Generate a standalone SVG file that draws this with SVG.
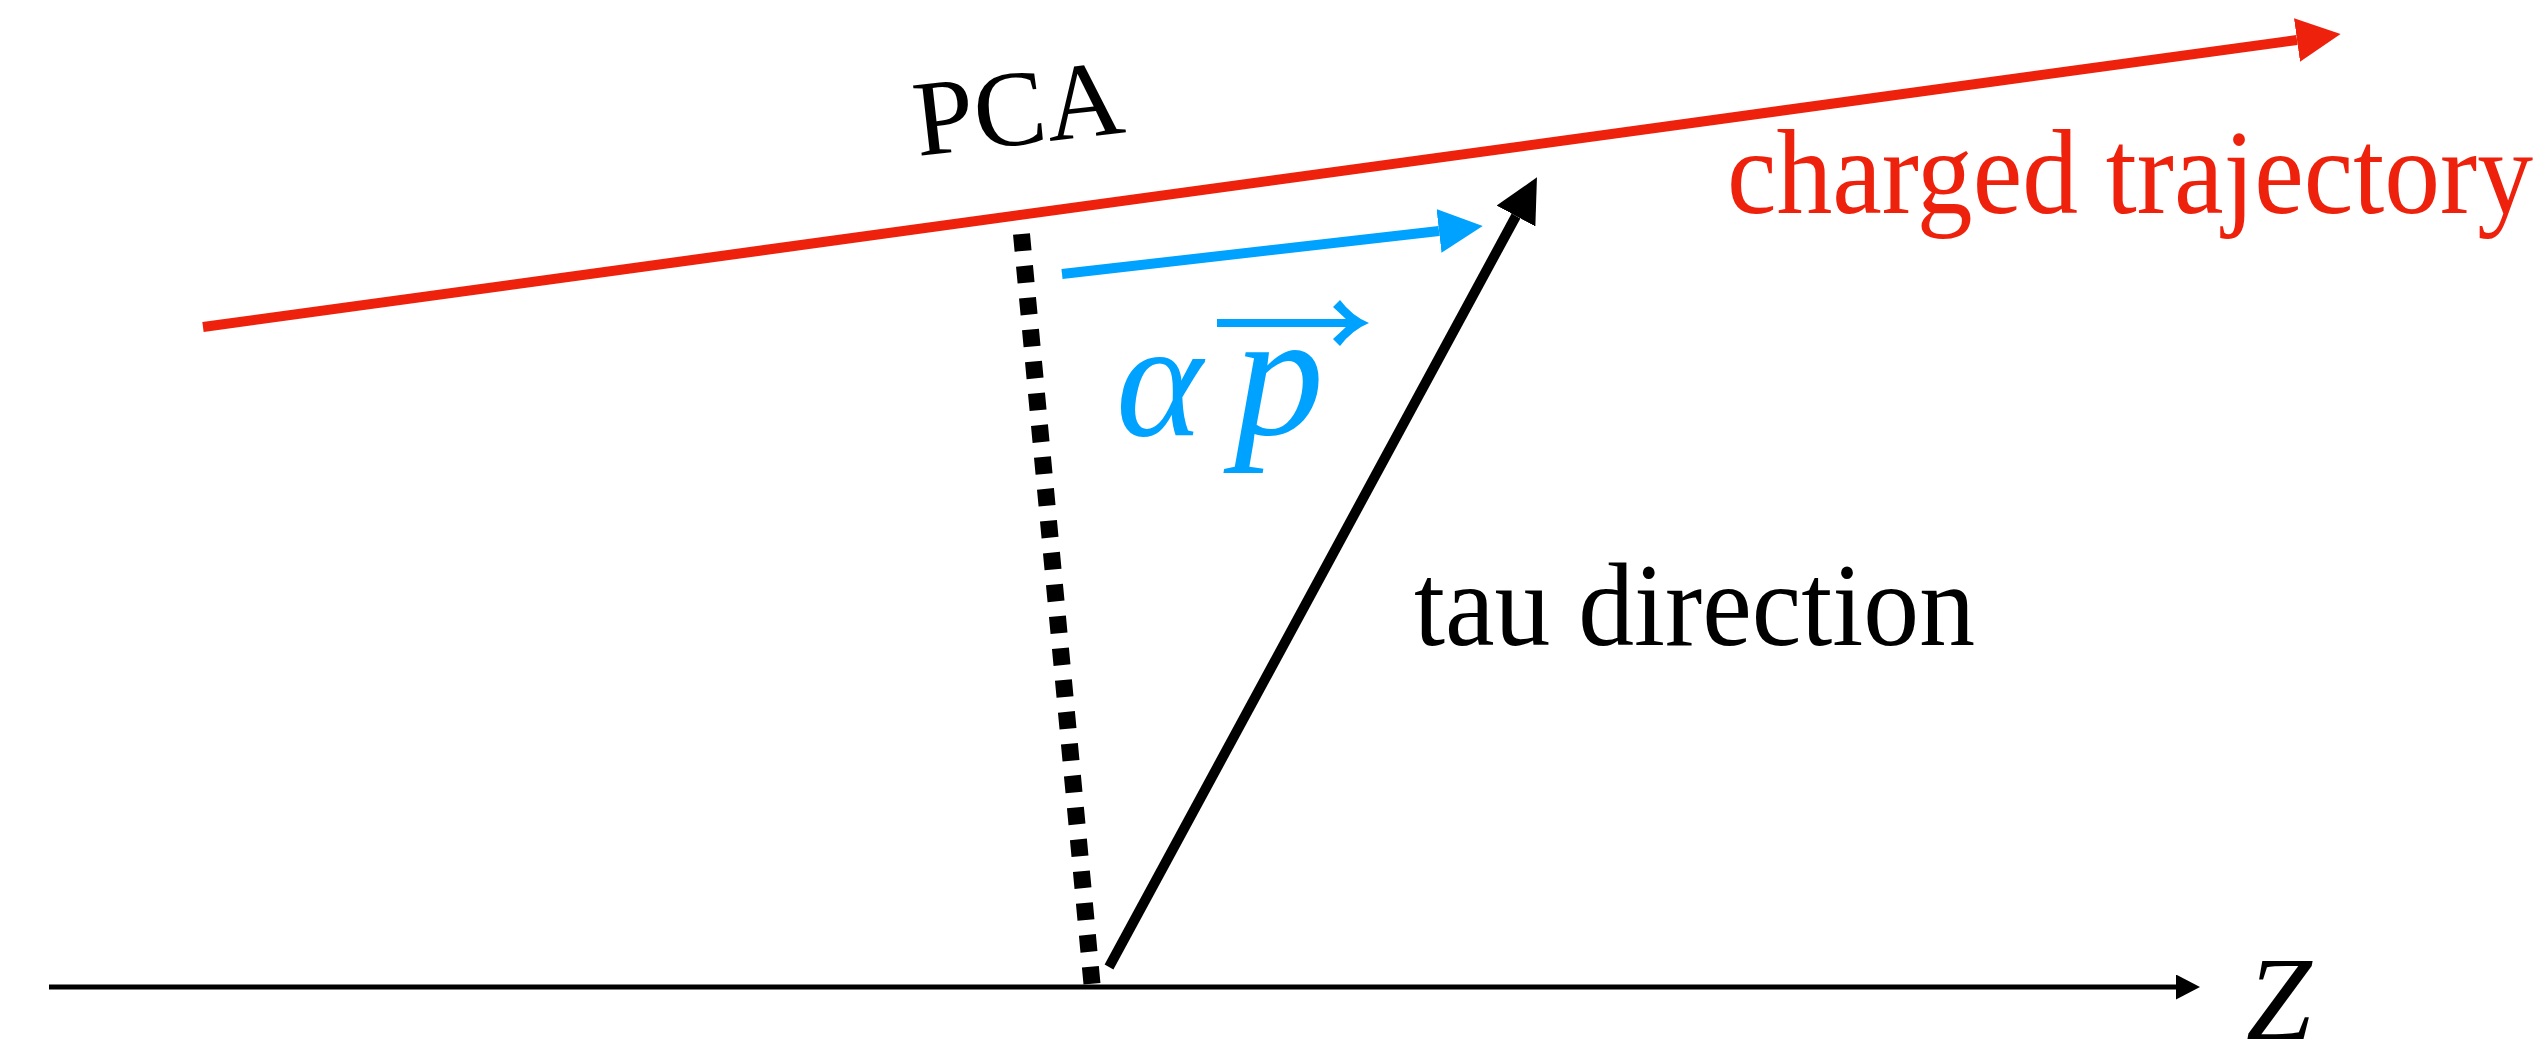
<svg xmlns="http://www.w3.org/2000/svg" width="2546" height="1061" viewBox="0 0 2546 1061">
<style>
text{font-family:"Liberation Serif",Tinos,"Times New Roman",Times,serif}
.red{fill:#EE220C}
.blk{fill:#000}
.blu{fill:#00A2FF}
</style>
<defs>
<marker id="ahRed" viewBox="0 0 44 44" refX="0" refY="22" markerWidth="44" markerHeight="44" markerUnits="userSpaceOnUse" orient="auto"><path d="M0,0 L44,22 L0,44 Z" fill="#EE220C"/></marker>
<marker id="ahBlue" viewBox="0 0 44 44" refX="0" refY="22" markerWidth="44" markerHeight="44" markerUnits="userSpaceOnUse" orient="auto"><path d="M0,0 L44,22 L0,44 Z" fill="#00A2FF"/></marker>
<marker id="ahBlack" viewBox="0 0 44 44" refX="0" refY="22" markerWidth="44" markerHeight="44" markerUnits="userSpaceOnUse" orient="auto"><path d="M0,0 L44,22 L0,44 Z" fill="#000"/></marker>
<marker id="ahAxis" viewBox="0 0 24 25" refX="0" refY="12.5" markerWidth="24" markerHeight="25" markerUnits="userSpaceOnUse" orient="auto"><path d="M0,0 L24,12.5 L0,25 Z" fill="#000"/></marker>
</defs>
<rect width="2546" height="1061" fill="#fff"/>
<g id="connectors">
<line id="z-axis" x1="49" y1="987" x2="2176" y2="987" stroke="#000" stroke-width="5" marker-end="url(#ahAxis)"/>
<line id="charged-trajectory" x1="203" y1="327" x2="2297" y2="40" stroke="#EE220C" stroke-width="10" marker-end="url(#ahRed)"/>
<line id="alpha-p" x1="1062" y1="274" x2="1439" y2="231" stroke="#00A2FF" stroke-width="10" marker-end="url(#ahBlue)"/>
<line id="tau-direction" x1="1109" y1="967" x2="1516" y2="216" stroke="#000" stroke-width="10" marker-end="url(#ahBlack)"/>
<line id="pca-distance" x1="1021.5" y1="234" x2="1092" y2="984" stroke="#000" stroke-width="17" stroke-dasharray="17 15"/>
</g>
<g id="label-pca">
<text class="blk" x="918" y="156" font-size="108" transform="rotate(-6.5 918 156)">PCA</text>
</g>
<g id="label-charged">
<text class="red" x="1727" y="213" font-size="120" textLength="806" lengthAdjust="spacingAndGlyphs">charged trajectory</text>
</g>
<g id="label-tau">
<text class="blk" x="1414" y="645" font-size="118" textLength="561" lengthAdjust="spacingAndGlyphs">tau direction</text>
</g>
<g id="label-alpha-p">
<text class="blu" x="1116" y="435" font-size="165" font-style="italic">α</text>
<text class="blu" x="1234" y="435" font-size="180" font-style="italic">p</text>
<line x1="1217" y1="323" x2="1360" y2="323" stroke="#00A2FF" stroke-width="8"/>
<path class="blu" d="M1333,307 L1340,300 Q1352,316 1369,323 Q1352,330 1340,346 L1333,339 Q1345,328 1350,323 Q1345,318 1333,307 Z"/>
</g>
<g id="label-z">
<text class="blk" x="2246" y="1039" font-size="118" font-style="italic">Z</text>
</g>
</svg>
